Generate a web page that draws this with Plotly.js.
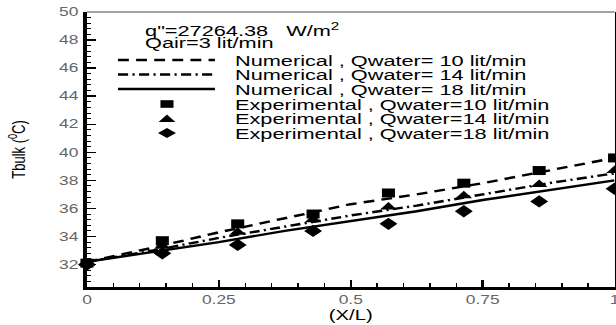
<!DOCTYPE html>
<html>
<head>
<meta charset="utf-8">
<script src="https://cdn.plot.ly/plotly-3.0.1.min.js"></script>
<style>
  html, body { margin: 0; padding: 0; overflow: hidden; background: #fff; }
  /* the figure is laid out at 425px and widened to fill the 616px frame */
  #chart { width: 425px; height: 325px; transform: scaleX(1.449412); transform-origin: 0 0; }
</style>
</head>
<body>
<div id="chart"></div>
<script>
// Dimensionless position along the channel
const xExp = [0, 1/7, 2/7, 3/7, 4/7, 5/7, 6/7, 1];
const xNum = [0, 0.125, 0.25, 0.375, 0.5, 0.625, 0.75, 0.875, 1];

// Bulk temperature (°C), numerical predictions
const num10 = [32.2, 33.2, 34.3, 35.3, 36.3, 37.0, 37.8, 38.7, 39.6];
const num14 = [32.2, 33.0, 33.9, 34.7, 35.5, 36.2, 37.0, 37.8, 38.5];
const num18 = [32.2, 32.9, 33.6, 34.4, 35.1, 35.8, 36.6, 37.3, 38.0];

// Bulk temperature (°C), measurements
const exp10 = [32.1, 33.7, 34.9, 35.6, 37.1, 37.8, 38.7, 39.6];
const exp14 = [32.1, 33.3, 34.3, 35.2, 36.1, 36.9, 37.7, 38.7];
const exp18 = [32.0, 32.8, 33.4, 34.4, 34.9, 35.8, 36.5, 37.4];

const legendLabels = [
  'Numerical , Qwater= 10 lit/min',
  'Numerical , Qwater= 14 lit/min',
  'Numerical , Qwater= 18 lit/min',
  'Experimental , Qwater=10 lit/min',
  'Experimental , Qwater=14 lit/min',
  'Experimental , Qwater=18 lit/min'
];
const headerLines = ['q"=27264.38   W/m<sup>2</sup>', 'Qair=3 lit/min'];

const FONT = 'Liberation Sans, Arial, sans-serif';
const ML = 60, MR = 1, MT = 12, MB = 38, W = 425, H = 325;
const PW = W - ML - MR, PH = H - MT - MB;
const px2x = p => (p - ML) / PW;
const py2y = p => (MT + PH - p) / PH;

const dashLong = '7.5px,5px';
const dashDot = '7px,3px,1.5px,3px';

const traces = [
  { x: xNum, y: num10, mode: 'lines', line: { color: '#000', width: 2.4, dash: dashLong } },
  { x: xNum, y: num14, mode: 'lines', line: { color: '#000', width: 2.4, dash: dashDot } },
  { x: xNum, y: num18, mode: 'lines', line: { color: '#000', width: 2.4 } },
  { x: xExp, y: exp10, mode: 'markers', cliponaxis: false, marker: { symbol: 'square', size: 9, color: '#000' } },
  { x: xExp, y: exp14, mode: 'markers', cliponaxis: false, marker: { symbol: 'triangle-up', size: 10, color: '#000' } },
  { x: xExp, y: exp18, mode: 'markers', cliponaxis: false, marker: { symbol: 'diamond', size: 9.5, color: '#000' } }
];

// Legend block drawn inside the frame
const rowY = [60, 74.5, 89, 104, 118.5, 133];
const keyX0 = 81.4, keyX1 = 148.3, keyXc = 115.2, textX = 160.8;

const shapes = [
  // thin upper frame line
  { type: 'line', xref: 'paper', yref: 'paper', x0: 0, x1: 1, y0: 1, y1: 1,
    line: { color: '#444', width: 1.2 } }
];
[dashLong, dashDot, 'solid'].forEach((d, i) => {
  shapes.push({ type: 'line', xref: 'paper', yref: 'paper',
    x0: px2x(keyX0), x1: px2x(keyX1), y0: py2y(rowY[i]), y1: py2y(rowY[i]),
    line: { color: '#000', width: 2.4, dash: d } });
});
function pathFrom(pts) {
  return 'M' + pts.map(p => px2x(p[0]) + ',' + py2y(p[1])).join('L') + 'Z';
}
const c = keyXc;
shapes.push({ type: 'path', xref: 'paper', yref: 'paper', fillcolor: '#000', line: { width: 0 },
  path: pathFrom([[c - 4.5, rowY[3] - 3.8], [c + 4.5, rowY[3] - 3.8], [c + 4.5, rowY[3] + 3.8], [c - 4.5, rowY[3] + 3.8]]) });
shapes.push({ type: 'path', xref: 'paper', yref: 'paper', fillcolor: '#000', line: { width: 0 },
  path: pathFrom([[c - 5.8, rowY[4] + 3.4], [c + 5.8, rowY[4] + 3.4], [c, rowY[4] - 4]]) });
shapes.push({ type: 'path', xref: 'paper', yref: 'paper', fillcolor: '#000', line: { width: 0 },
  path: pathFrom([[c - 6.2, rowY[5]], [c, rowY[5] - 5], [c + 6.2, rowY[5]], [c, rowY[5] + 5]]) });

const annotations = [];
legendLabels.forEach((t, i) => {
  annotations.push({ xref: 'paper', yref: 'paper', x: px2x(textX), y: py2y(rowY[i]),
    xanchor: 'left', yanchor: 'middle', showarrow: false, text: t, borderpad: 0,
    font: { family: FONT, size: 15, color: '#000' } });
});
[30, 42].forEach((yy, i) => {
  annotations.push({ xref: 'paper', yref: 'paper', x: px2x(98.7), y: py2y(yy),
    xanchor: 'left', yanchor: 'middle', showarrow: false, text: headerLines[i], borderpad: 0,
    font: { family: FONT, size: 15, color: '#000' } });
});

const layout = {
  width: W, height: H,
  margin: { l: ML, r: MR, t: MT, b: MB },
  paper_bgcolor: '#fff', plot_bgcolor: '#fff',
  showlegend: false,
  font: { family: FONT, color: '#000' },
  xaxis: {
    range: [0, 1], tick0: 0, dtick: 0.25,
    ticks: 'inside', ticklen: 7, tickwidth: 1.6, tickcolor: '#000',
    minor: { dtick: 0.05, ticks: 'inside', ticklen: 4, tickwidth: 1, tickcolor: '#000' },
    showline: true, linewidth: 2.5, linecolor: '#000',
    showgrid: false, zeroline: false,
    ticklabeloverflow: 'allow',
    tickfont: { family: FONT, size: 12, color: '#666' },
    title: { text: '(X/L)', font: { family: FONT, size: 14, color: '#000' }, standoff: 3 }
  },
  yaxis: {
    range: [30.4, 50], tick0: 0, dtick: 2,
    ticks: 'inside', ticklen: 6, tickwidth: 1.4, tickcolor: '#000',
    minor: { dtick: 0.4, ticks: 'inside', ticklen: 3, tickwidth: 1, tickcolor: '#000' },
    showline: true, mirror: true, linewidth: 2.5, linecolor: '#000',
    showgrid: false, zeroline: false,
    ticklabelstandoff: 1,
    tickfont: { family: FONT, size: 12, color: '#666' },
    title: { text: 'Tbulk (<sup>0</sup>C)', font: { family: FONT, size: 13, color: '#000' }, standoff: 20 }
  },
  shapes: shapes,
  annotations: annotations
};

Plotly.newPlot('chart', traces, layout, { displayModeBar: false, staticPlot: true });
</script>
</body>
</html>
